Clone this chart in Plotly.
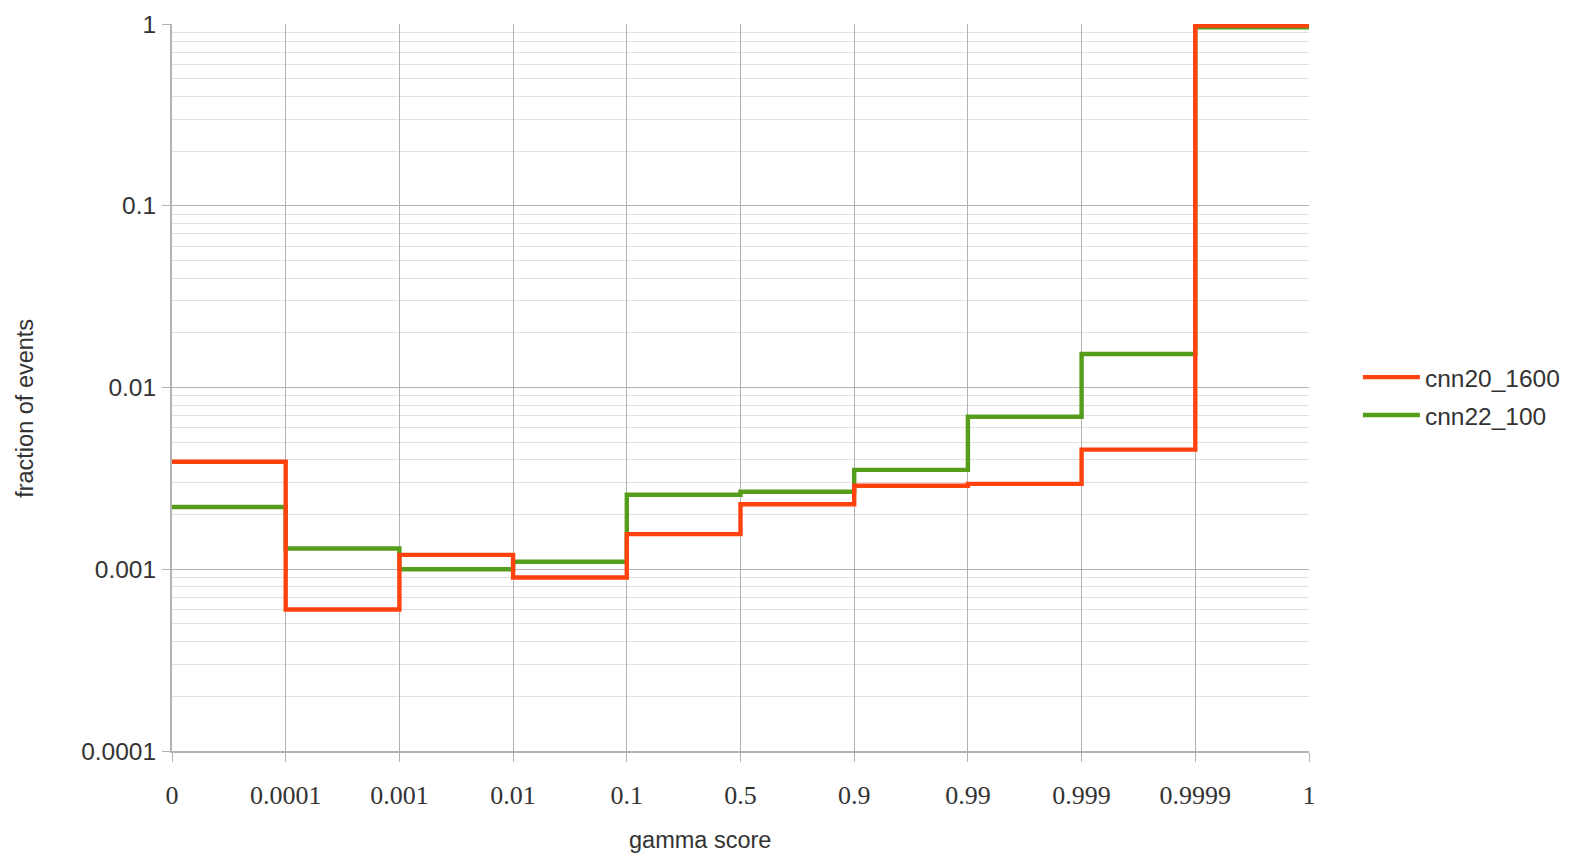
import plotly.graph_objects as go

# Data
bin_edges = ["0", "0.0001", "0.001", "0.01", "0.1", "0.5", "0.9", "0.99", "0.999", "0.9999", "1"]
cnn20_1600 = [0.0039, 0.0006, 0.0012, 0.0009, 0.00156, 0.00228, 0.00288, 0.00295, 0.00455, 0.98]
cnn22_100 = [0.0022, 0.0013, 0.0010, 0.0011, 0.00257, 0.00267, 0.00352, 0.0069, 0.0153, 0.96]

RED = "#ff420e"
GREEN = "#579d1c"
TXT = "#333333"
positions = list(range(len(bin_edges)))

fig = go.Figure()
# green first so red is drawn on top
fig.add_trace(go.Scatter(
    x=positions, y=cnn22_100 + [cnn22_100[-1]], mode="lines", name="cnn22_100",
    line=dict(color=GREEN, width=4.4, shape="hv"), legendrank=2, legendgroup="b",
))
fig.add_trace(go.Scatter(
    x=positions, y=cnn20_1600 + [cnn20_1600[-1]], mode="lines", name="cnn20_1600",
    line=dict(color=RED, width=4.4, shape="hv"), legendrank=1, legendgroup="a",
))

minor_vals = [k * 10 ** e for e in range(-4, 0) for k in range(2, 10)]

fig.update_layout(
    width=1567, height=848,
    margin=dict(l=164, r=266, t=16, b=105, autoexpand=False),
    paper_bgcolor="white", plot_bgcolor="white",
    font=dict(family="Liberation Sans, Arial, sans-serif", size=23, color=TXT),
    showlegend=True,
    legend=dict(x=1.043, y=0.488, xanchor="left", yanchor="middle",
                font=dict(size=24.5, color=TXT), bgcolor="rgba(0,0,0,0)",
                itemwidth=57, tracegroupgap=3),
    xaxis=dict(
        range=[0, len(bin_edges) - 1], automargin=False,
        tickmode="array", tickvals=positions, ticktext=bin_edges,
        tickfont=dict(family="Liberation Serif, Times New Roman, serif", size=26, color=TXT),
        ticklabelstandoff=11,
        showgrid=True, gridcolor="#b3b3b3", gridwidth=1,
        showline=True, linecolor="#b3b3b3", linewidth=2,
        ticks="outside", ticklen=9, tickcolor="#b3b3b3", tickwidth=1,
        zeroline=False, mirror=False,
    ),
    yaxis=dict(
        type="log", range=[-4, 0], automargin=False,
        tickvals=[0.0001, 0.001, 0.01, 0.1, 1],
        ticktext=["0.0001", "0.001", "0.01", "0.1", "1"],
        tickfont=dict(size=24.5, color=TXT),
        ticklabelstandoff=1,
        showgrid=True, gridcolor="#b3b3b3", gridwidth=1,
        showline=True, linecolor="#b3b3b3", linewidth=2,
        ticks="outside", ticklen=8, tickcolor="#b3b3b3",
        zeroline=False,
        minor=dict(tickvals=minor_vals, showgrid=True, gridcolor="#e0e0e0", gridwidth=1, ticks=""),
    ),
    annotations=[
        dict(text="gamma score", xref="paper", yref="paper", x=0.464, y=-0.1224,
             xanchor="center", yanchor="middle", showarrow=False,
             font=dict(size=23.5, color=TXT)),
        dict(text="fraction of events", xref="paper", yref="paper", x=-0.1293, y=0.472,
             xanchor="center", yanchor="middle", showarrow=False, textangle=-90,
             font=dict(size=23.5, color=TXT)),
    ],
)

fig.write_html("out.html")
